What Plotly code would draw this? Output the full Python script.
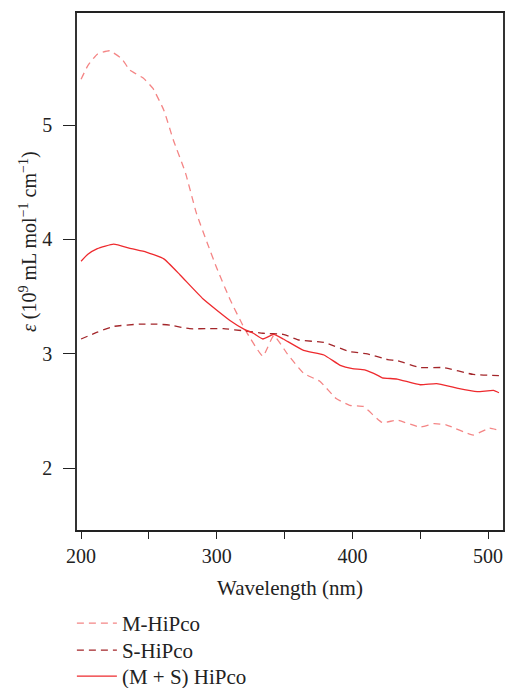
import plotly.graph_objects as go

# M-HiPco (light dashed)
m_wl = [200, 205, 212, 221, 230, 236, 246, 253, 261, 268, 277, 285, 293, 300, 310, 321,
        334, 342, 352, 364, 376, 388, 398, 408, 422, 433, 450, 460, 469, 489, 501, 508]
m_eps = [5.40, 5.52, 5.62, 5.65, 5.58, 5.48, 5.41, 5.32, 5.13, 4.87, 4.58, 4.23, 3.97, 3.75, 3.47, 3.21,
         2.98, 3.16, 3.00, 2.83, 2.76, 2.61, 2.55, 2.54, 2.40, 2.42, 2.36, 2.39, 2.38, 2.29, 2.35, 2.33]

# S-HiPco (dark dashed)
s_wl = [200, 212, 224, 243, 256, 266, 280, 293, 305, 321, 334, 349, 361, 379, 398, 411,
        426, 433, 450, 467, 489, 508]
s_eps = [3.13, 3.19, 3.24, 3.26, 3.26, 3.25, 3.22, 3.22, 3.22, 3.20, 3.18, 3.17, 3.12, 3.10, 3.02, 3.00,
         2.95, 2.94, 2.88, 2.88, 2.82, 2.81]

# (M + S) HiPco (solid)
ms_wl = [200, 205, 212, 224, 237, 248, 261, 273, 290, 310, 321, 327, 334, 342, 349, 364,
         379, 391, 400, 409, 419, 422, 433, 450, 462, 477, 492, 504, 508]
ms_eps = [3.81, 3.87, 3.92, 3.96, 3.92, 3.89, 3.83, 3.69, 3.48, 3.29, 3.21, 3.18, 3.13, 3.17, 3.13, 3.03,
          2.99, 2.90, 2.87, 2.86, 2.81, 2.79, 2.78, 2.73, 2.74, 2.70, 2.67, 2.68, 2.66]

x_tickvals = [200, 250, 300, 350, 400, 450, 500]
x_ticktext = ["200", "", "300", "", "400", "", "500"]
y_tickvals = [2, 3, 4, 5]
y_ticktext = ["2", "3", "4", "5"]

FONT = "Liberation Serif"

fig = go.Figure()
fig.add_trace(go.Scatter(x=m_wl, y=m_eps, mode="lines", name="M-HiPco", legend="legend",
                         line=dict(color="#F48585", width=1.3, dash="7px,5px", shape="spline", smoothing=0.4)))
fig.add_trace(go.Scatter(x=s_wl, y=s_eps, mode="lines", name="S-HiPco", legend="legend2",
                         line=dict(color="#A3262A", width=1.3, dash="7px,5px", shape="spline", smoothing=0.4)))
fig.add_trace(go.Scatter(x=ms_wl, y=ms_eps, mode="lines", name="(M + S) HiPco", legend="legend3",
                         line=dict(color="#EE2A2E", width=1.3, shape="spline", smoothing=0.4)))

legend_common = dict(x=-0.012, xanchor="left", yanchor="top",
                     font=dict(family=FONT, size=21, color="#222"),
                     bgcolor="rgba(0,0,0,0)", itemwidth=40)

fig.update_layout(
    width=505, height=688,
    margin=dict(l=77, r=2, t=13, b=158, autoexpand=False),
    plot_bgcolor="white", paper_bgcolor="white",
    font=dict(family=FONT, size=20, color="#222"),
    showlegend=True,
    legend=dict(y=-0.1412, **legend_common),
    legend2=dict(y=-0.1934, **legend_common),
    legend3=dict(y=-0.2437, **legend_common),
    xaxis=dict(range=[197, 511], tickvals=x_tickvals, ticktext=x_ticktext,
               ticks="outside", ticklen=7, tickwidth=1.2, tickcolor="#222",
               showline=True, linecolor="#222", linewidth=1.5, mirror=True,
               showgrid=False, zeroline=False,
               title=dict(text="Wavelength (nm)", font=dict(family=FONT, size=21), standoff=15)),
    yaxis=dict(range=[1.46, 5.98], tickvals=y_tickvals, ticktext=y_ticktext,
               ticks="outside", ticklen=12, tickwidth=1.2, tickcolor="#222",
               showline=True, linecolor="#333", linewidth=1.5, mirror=True,
               showgrid=False, zeroline=False, ticklabelstandoff=7),
)

fig.add_annotation(
    xref="paper", yref="paper", x=-0.115, y=0.557,
    text="<i>ε</i> (10<sup>9</sup> mL mol<sup>−1</sup> cm<sup>−1</sup>)",
    textangle=-90, showarrow=False, xanchor="center", yanchor="middle",
    font=dict(family=FONT, size=20, color="#222"),
)

fig.write_html("out.html", config={"displayModeBar": False},
               post_script="document.body.style.margin='0';document.body.style.overflow='hidden';")
